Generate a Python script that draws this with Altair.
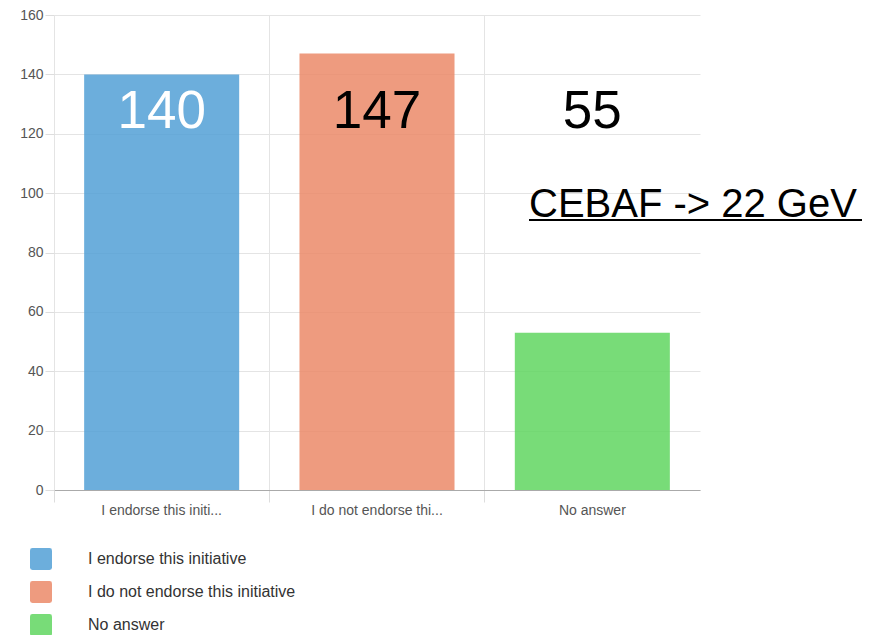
import altair as alt
import pandas as pd

categories = ["I endorse this initiative", "I do not endorse this initiative", "No answer"]
counts = [140, 147, 53]
annot_labels = ["140", "147", "55"]
annot_colors = ["white", "black", "black"]
bar_colors = ["#52a0d6", "#eb8969", "#60d660"]
y_ticks = [0, 20, 40, 60, 80, 100, 120, 140, 160]

df = pd.DataFrame({
    "category": categories,
    "count": counts,
    "label": annot_labels,
    "label_color": annot_colors,
})

FONT = "Liberation Sans"
W, H = 646, 475

rounded_sq = ("M -0.78,-1 L 0.78,-1 Q 1,-1 1,-0.78 L 1,0.78 Q 1,1 0.78,1 "
              "L -0.78,1 Q -1,1 -1,0.78 L -1,-0.78 Q -1,-1 -0.78,-1 Z")

x_enc = alt.X(
    "category:N", sort=categories,
    scale=alt.Scale(paddingInner=0, paddingOuter=0),
    axis=alt.Axis(
        title=None, bandPosition=0, labelAngle=0,
        tickSize=12, tickColor="#dddddd", grid=True, gridColor="#e4e4e4",
        domainColor="#aaaaaa", labelFont=FONT, labelFontSize=14,
        labelColor="#555555", labelPadding=1, labelOverlap=False,
        labelExpr="length(datum.label) > 20 ? slice(datum.label, 0, 20) + '...' : datum.label",
    ),
)
y_scale = alt.Scale(domain=[0, 160], nice=False)

bars = alt.Chart(df).mark_bar(opacity=0.85, width=alt.RelativeBandSize(0.72)).encode(
    x=x_enc,
    y=alt.Y("count:Q", scale=y_scale, axis=alt.Axis(
        title=None, values=y_ticks, grid=True, gridColor="#e4e4e4",
        tickColor="#dddddd", tickSize=9, labelPadding=2, domain=False,
        labelFont=FONT, labelFontSize=14, labelColor="#555555")),
    color=alt.Color("category:N", sort=categories,
                    scale=alt.Scale(domain=categories, range=bar_colors),
                    legend=alt.Legend(
                        orient="none", legendX=-24, legendY=533, title=None,
                        symbolType=rounded_sq, symbolSize=484, symbolStrokeWidth=0,
                        symbolOpacity=0.85,
                        labelOffset=36, rowPadding=11, labelFont=FONT,
                        labelFontSize=16, labelColor="#333333", padding=0,
                        labelLimit=400)),
)

nums = alt.Chart(df).mark_text(font=FONT, fontSize=53, baseline="alphabetic", align="center").encode(
    x=alt.X("category:N", sort=categories),
    y=alt.datum(122),
    text="label:N",
    color=alt.Color("label_color:N", scale=None),
)

note = alt.Chart(df.head(1)).mark_text(
    text="CEBAF -> 22 GeV", font=FONT, fontSize=40, align="left",
    baseline="alphabetic", color="black",
).encode(x=alt.value(475), y=alt.value(202))

underline = alt.Chart(df.head(1)).mark_rule(color="black", strokeWidth=2).encode(
    x=alt.value(475), x2=alt.value(808), y=alt.value(205)
)

chart = alt.layer(bars, nums, note, underline).resolve_scale(color="independent").properties(
    width=W, height=H,
    autosize=alt.AutoSizeParams(type="none"),
    padding={"left": 46, "top": 7, "right": 176, "bottom": 145},
).configure_view(stroke=None)

chart.save("out.html", embed_options={"renderer": "svg", "actions": False})
